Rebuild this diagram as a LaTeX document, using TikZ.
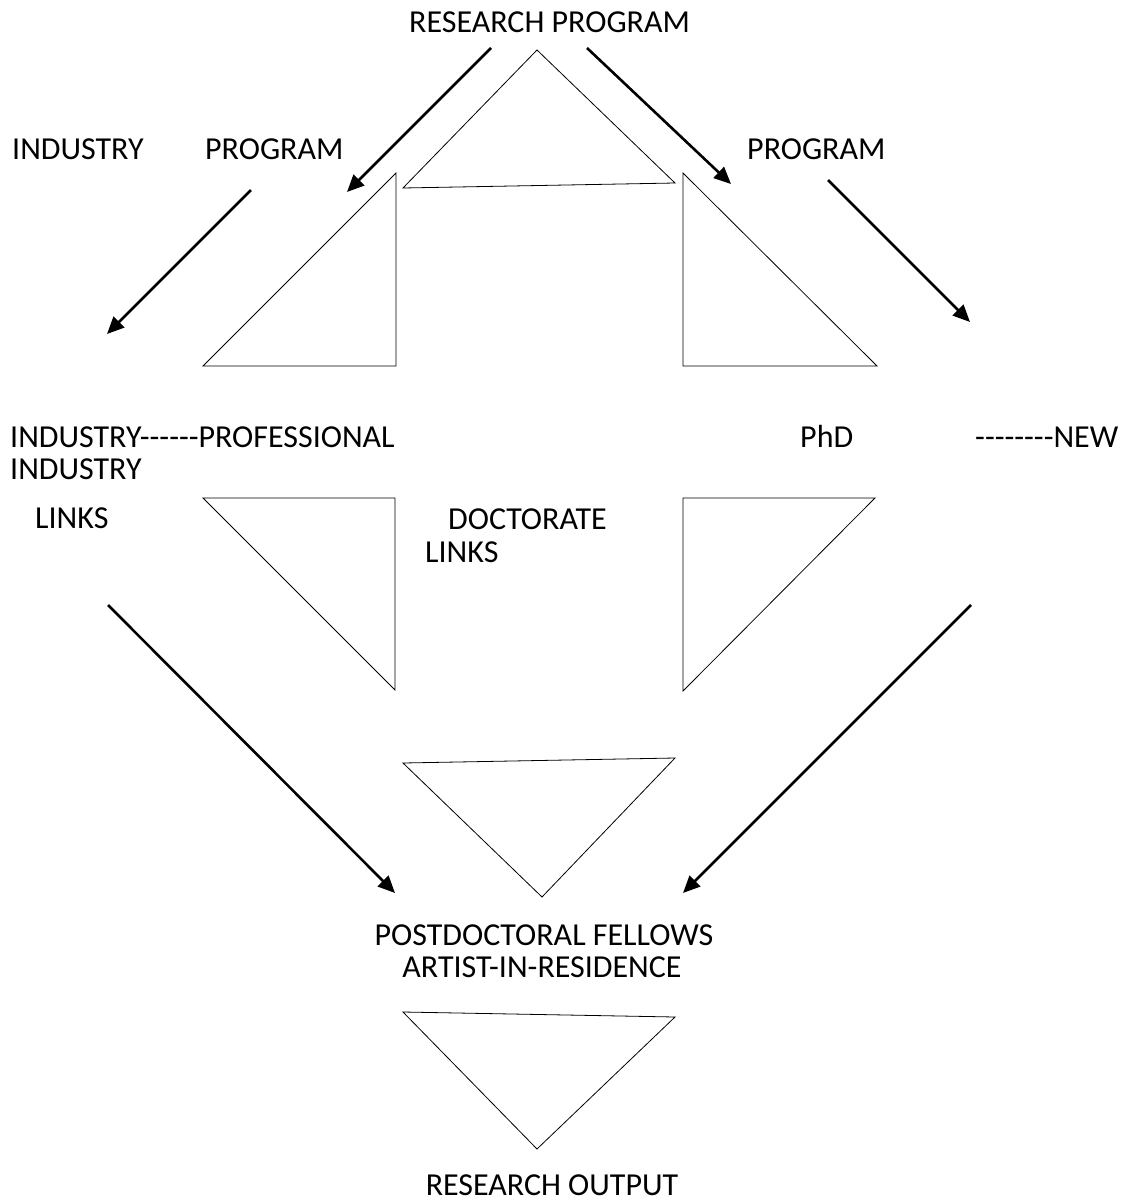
\documentclass[tikz,border=0pt]{standalone}
\usepackage{fontspec}
\setmainfont{Carlito}[Ligatures=TeXOff]
\usetikzlibrary{arrows.meta}

\begin{document}
\begin{tikzpicture}[x=1pt,y=-1pt]

        \useasboundingbox (0,0) rectangle (1123,1202);

        \begin{scope}[every node/.style={anchor=base west, inner sep=0pt, font=\fontsize{32}{38}\selectfont}]
          \node (rp)   at (409,32)  {RESEARCH PROGRAM};
          \node (ind)  at (12,159)  {INDUSTRY};
          \node (pgl)  at (205,159) {PROGRAM};
          \node (pgr)  at (747,159) {PROGRAM};
          \node (ipr)  at (10,447)  {INDUSTRY------PROFESSIONAL};
          \node (ind2) at (10,479)  {INDUSTRY};
          \node (lnk)  at (35,528)  {LINKS};
          \node (doc)  at (448,529) {DOCTORATE};
          \node (lnk2) at (425,562) {LINKS};
          \node (phd)  at (800,447) {PhD};
          \node (new)  at (975,447) {--------NEW};
          \node[anchor=base] (pdf) at (544,945)  {POSTDOCTORAL FELLOWS};
          \node[anchor=base] (air) at (542,977)  {ARTIST-IN-RESIDENCE};
          \node[anchor=base] (ro)  at (552,1195) {RESEARCH OUTPUT};
        \end{scope}

        % arrow ends
        \coordinate (s1) at (491,48);  \coordinate (e1) at (347,192);
        \coordinate (s2) at (587,48);  \coordinate (e2) at (731,184);
        \coordinate (s3) at (251,190); \coordinate (e3) at (107,334);
        \coordinate (s4) at (828,180); \coordinate (e4) at (970,322);
        \coordinate (s5) at (108,605); \coordinate (e5) at (395,893);
        \coordinate (s6) at (971,605); \coordinate (e6) at (683,893);

        \begin{scope}[every edge/.style={draw, line width=2.6pt, -{Triangle[length=17pt,width=15pt]}}]
          \path (s1) edge (e1);
          \path (s2) edge (e2);
          \path (s3) edge (e3);
          \path (s4) edge (e4);
          \path (s5) edge (e5);
          \path (s6) edge (e6);
        \end{scope}

        \begin{scope}[line width=0.8pt, line join=miter]
          \draw (537,50)  -- (403,188) -- (675,183) -- cycle;
          \draw (396,173) -- (203,366) -- (396,366) -- cycle;
          \draw (683,173) -- (683,366) -- (877,366) -- cycle;
          \draw (203,498) -- (395,498) -- (395,690) -- cycle;
          \draw (683,498) -- (875,498) -- (683,691) -- cycle;
          \draw (403,763) -- (675,758) -- (542,897) -- cycle;
          \draw (403,1012) -- (675,1017) -- (537,1149) -- cycle;
        \end{scope}

      \end{tikzpicture}
\end{document}
